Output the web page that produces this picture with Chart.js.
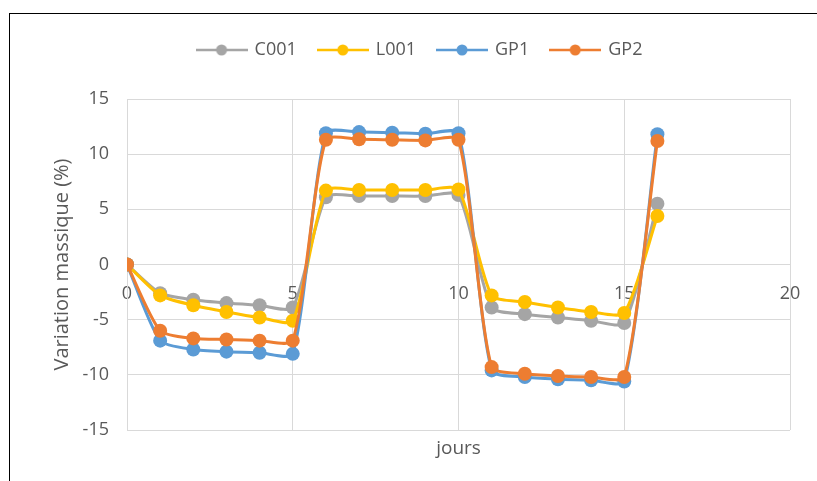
<!DOCTYPE html>
<html>
<head>
<meta charset="utf-8">
<script src="https://cdn.jsdelivr.net/npm/chart.js@4/dist/chart.umd.min.js"></script>
<style>
  html, body { margin: 0; padding: 0; background: #fff; }
  #wrap { position: relative; width: 817px; height: 481px; overflow: hidden; }
  #frame { position: absolute; left: 9px; top: 13px; width: 830px; height: 490px;
           border-top: 1px solid #000; border-left: 1px solid #000; }
  #chart { position: absolute; left: 0; top: 0; }
</style>
</head>
<body>
<div id="wrap">
  <div id="frame"></div>
  <canvas id="chart" width="817" height="481"></canvas>
</div>
<script>
// jours
const days = [0, 1, 2, 3, 4, 5, 6, 7, 8, 9, 10, 11, 12, 13, 14, 15, 16];

// variation massique (%) par échantillon
const c001 = [0, -2.6, -3.2, -3.5, -3.7, -3.9, 6.1, 6.2, 6.2, 6.2, 6.3, -3.9, -4.5, -4.8, -5.1, -5.3, 5.5];
const l001 = [0, -2.8, -3.7, -4.3, -4.8, -5.1, 6.7, 6.75, 6.75, 6.75, 6.8, -2.8, -3.4, -3.9, -4.3, -4.4, 4.4];
const gp1 = [0, -6.9, -7.7, -7.9, -8.0, -8.1, 11.9, 12.0, 11.95, 11.85, 11.9, -9.6, -10.2, -10.4, -10.5, -10.6, 11.8];
const gp2 = [0, -6.0, -6.7, -6.8, -6.9, -6.9, 11.3, 11.35, 11.3, 11.25, 11.3, -9.3, -9.9, -10.1, -10.2, -10.2, 11.2];

const seriesNames = ["C001", "L001", "GP1", "GP2"];
const seriesColors = ["#A5A5A5", "#FFC000", "#5B9BD5", "#ED7D31"];
const seriesValues = [c001, l001, gp1, gp2];

const xTicks = [0, 5, 10, 15, 20];
const yTicks = [-15, -10, -5, 0, 5, 10, 15];

const textColor = "#595959";
const gridColor = "#D9D9D9";
const fontFamily = "'Open Sans', sans-serif";

// petit symbole de légende : trait + rond
function legendMarker(color) {
    const c = document.createElement("canvas");
    c.width = 52;
    c.height = 14;
    const g = c.getContext("2d");
    g.strokeStyle = color;
    g.lineWidth = 2.5;
    g.beginPath();
    g.moveTo(0, 7);
    g.lineTo(52, 7);
    g.stroke();
    g.fillStyle = color;
    g.beginPath();
    g.arc(26, 7, 5.5, 0, Math.PI * 2);
    g.fill();
    return c;
}

const datasets = seriesNames.map((name, i) => ({
    label: name,
    data: days.map((d, j) => ({ x: d, y: seriesValues[i][j] })),
    borderColor: seriesColors[i],
    backgroundColor: seriesColors[i],
    pointBackgroundColor: seriesColors[i],
    pointBorderColor: seriesColors[i],
    pointStyle: "circle",
    legendStyle: legendMarker(seriesColors[i]),
    borderWidth: 3,
    pointRadius: 7,
    pointBorderWidth: 0,
    tension: 0.22,
    fill: false,
    order: seriesNames.length - i,
}));

new Chart(document.getElementById("chart"), {
    type: "line",
    data: { datasets },
    options: {
        responsive: false,
        animation: false,
        layout: { padding: { left: 50, right: 27, top: 19, bottom: 0 } },
        plugins: {
            tooltip: { enabled: false },
            legend: {
                position: "top",
                labels: {
                    color: textColor,
                    font: { family: fontFamily, size: 18 },
                    padding: 22,
                    usePointStyle: true,
                    pointStyleWidth: 48,
                    sort: (a, b) => a.datasetIndex - b.datasetIndex,
                    generateLabels: (chart) => chart.data.datasets.map((ds, i) => ({
                        text: ds.label,
                        fillStyle: ds.borderColor,
                        strokeStyle: ds.borderColor,
                        fontColor: textColor,
                        lineWidth: 0,
                        pointStyle: ds.legendStyle,
                        hidden: false,
                        datasetIndex: i,
                    })),
                },
            },
        },
        scales: {
            x: {
                type: "linear",
                position: { y: 0 },
                min: 0,
                max: 20,
                afterBuildTicks: (s) => { s.ticks = xTicks.map((v) => ({ value: v })); },
                afterFit: (s) => { s.height = 0; s.paddingLeft = 0; s.paddingRight = 0; },
                ticks: { color: textColor, font: { family: fontFamily, size: 18 }, padding: 19, maxRotation: 0 },
                grid: { color: gridColor, lineWidth: 1, drawTicks: false },
                border: { color: gridColor, width: 1 },
            },
            xTitle: {
                type: "linear",
                position: "bottom",
                min: 0,
                max: 20,
                afterFit: (s) => { s.height = 51; },
                ticks: { display: false },
                grid: { display: false },
                border: { display: false },
                title: { display: true, text: "jours", color: textColor, font: { family: fontFamily, size: 19 }, padding: { top: 0, bottom: 21 } },
            },
            spacer: {
                type: "linear",
                position: "top",
                afterFit: (s) => { s.height = 30; },
                ticks: { display: false },
                grid: { display: false },
                border: { display: false },
            },
            y: {
                type: "linear",
                position: "left",
                min: -15,
                max: 15,
                afterBuildTicks: (s) => { s.ticks = yTicks.map((v) => ({ value: v })); },
                afterFit: (s) => { s.width = 77; },
                ticks: { color: textColor, font: { family: fontFamily, size: 18 }, padding: 18 },
                grid: { color: gridColor, lineWidth: 1, drawTicks: false },
                border: { color: gridColor, width: 1 },
                title: { display: true, text: "Variation massique (%)", color: textColor, font: { family: fontFamily, size: 20 }, padding: { top: 0, bottom: 0 } },
            },
        },
    },
});
</script>
</body>
</html>
